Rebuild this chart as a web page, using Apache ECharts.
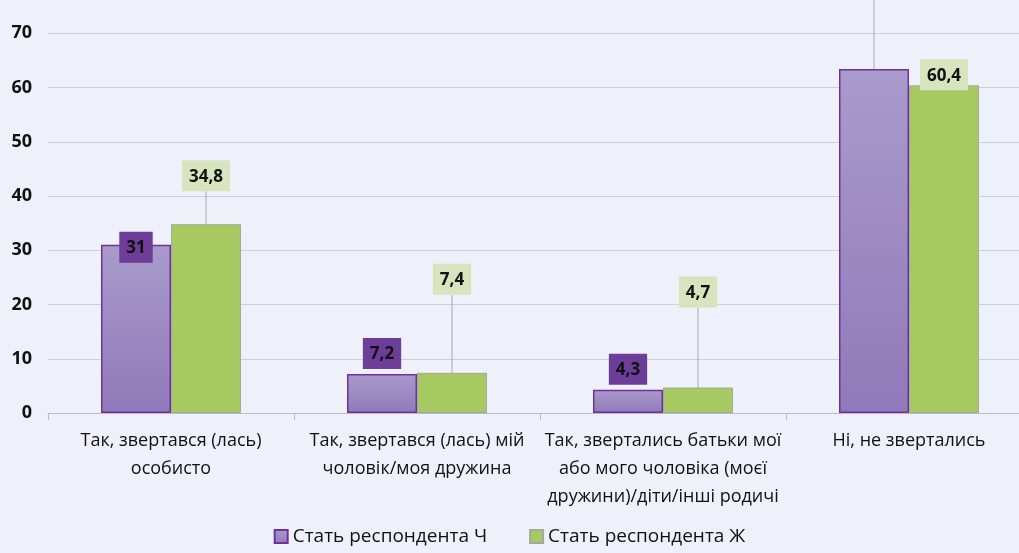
<!DOCTYPE html>
<html>
<head>
<meta charset="utf-8">
<script src="https://cdn.jsdelivr.net/npm/echarts@6/dist/echarts.min.js"></script>
<style>
  html, body { margin: 0; padding: 0; background: #eef1f9; }
  #chart { width: 1019px; height: 553px; }
</style>
</head>
<body>
<div id="chart"></div>
<script>
const categories = [
  'Так, звертався (лась)\nособисто',
  'Так, звертався (лась) мій\nчоловік/моя дружина',
  'Так, звертались батьки мої\nабо мого чоловіка (моєї\nдружини)/діти/інші родичі',
  'Ні, не звертались'
];
const seriesNames = ['Стать респондента Ч', 'Стать респондента Ж'];
const maleValues = [31, 7.2, 4.3, 63.4];
const femaleValues = [34.8, 7.4, 4.7, 60.4];

// vertical shift of each data label from its default 'top' position
const maleLabelShift = [23, 0, 0, -72];
const femaleLabelShift = [-28, -73, -75, 10];

const font = '"Open Sans", Lato, sans-serif';

const chart = echarts.init(document.getElementById('chart'));

const option = {
  backgroundColor: '#eef1f9',
  animation: false,
  textStyle: { fontFamily: font },
  grid: {
    left: 48,
    right: -13,
    top: -21,
    bottom: 140,
    outerBoundsMode: 'none',
    containLabel: false
  },
  legend: {
    bottom: 2,
    left: 'center',
    icon: 'rect',
    itemWidth: 13,
    itemHeight: 13,
    itemGap: 42,
    textStyle: { fontSize: 19, color: '#111', fontFamily: font },
    data: seriesNames
  },
  xAxis: {
    type: 'category',
    data: categories,
    axisLine: { lineStyle: { color: '#b9bcc6', width: 1 } },
    axisTick: { show: true, length: 7, lineStyle: { color: '#b9bcc6' } },
    axisLabel: {
      fontSize: 18,
      color: '#111',
      lineHeight: 28,
      margin: 14,
      interval: 0
    }
  },
  yAxis: {
    type: 'value',
    min: 0,
    max: 80,
    interval: 10,
    axisLine: { show: false },
    axisTick: { show: false },
    axisLabel: { fontSize: 18, fontWeight: 'bold', color: '#111', margin: 16 },
    splitLine: { lineStyle: { color: '#cdd0d8', width: 1 } }
  },
  series: [
    {
      name: seriesNames[0],
      type: 'bar',
      barWidth: 70,
      barGap: '0%',
      data: maleValues.map(function (v, i) {
        return i === 3 ? { value: v, labelLine: { show: true } } : v;
      }),
      itemStyle: {
        color: new echarts.graphic.LinearGradient(0, 0, 0, 1, [
          { offset: 0, color: '#a99bcb' },
          { offset: 1, color: '#9079b9' }
        ]),
        borderColor: '#7030a0',
        borderWidth: 1.5
      },
      label: {
        show: true,
        position: 'top',
        distance: 5,
        formatter: function (p) { return String(p.value).replace('.', ','); },
        backgroundColor: '#6c3d99',
        color: '#111',
        fontSize: 17,
        fontWeight: 'bold',
        padding: [8, 7, 6, 7]
      },
      labelLine: { show: false, lineStyle: { color: '#a6a8ae', width: 1 } },
      labelLayout: function (p) {
        return { dy: maleLabelShift[p.dataIndex] };
      }
    },
    {
      name: seriesNames[1],
      type: 'bar',
      barWidth: 70,
      data: femaleValues,
      itemStyle: {
        color: '#a6c962',
        borderColor: '#a3a7a0',
        borderWidth: 1
      },
      label: {
        show: true,
        position: 'top',
        distance: 5,
        formatter: function (p) { return String(p.value).replace('.', ','); },
        backgroundColor: '#d7e4bd',
        color: '#111',
        fontSize: 17,
        fontWeight: 'bold',
        padding: [8, 7, 6, 7]
      },
      labelLine: { show: true, lineStyle: { color: '#a6a8ae', width: 1 } },
      labelLayout: function (p) {
        return { dy: femaleLabelShift[p.dataIndex] };
      }
    }
  ]
};

chart.setOption(option);
</script>
</body>
</html>
